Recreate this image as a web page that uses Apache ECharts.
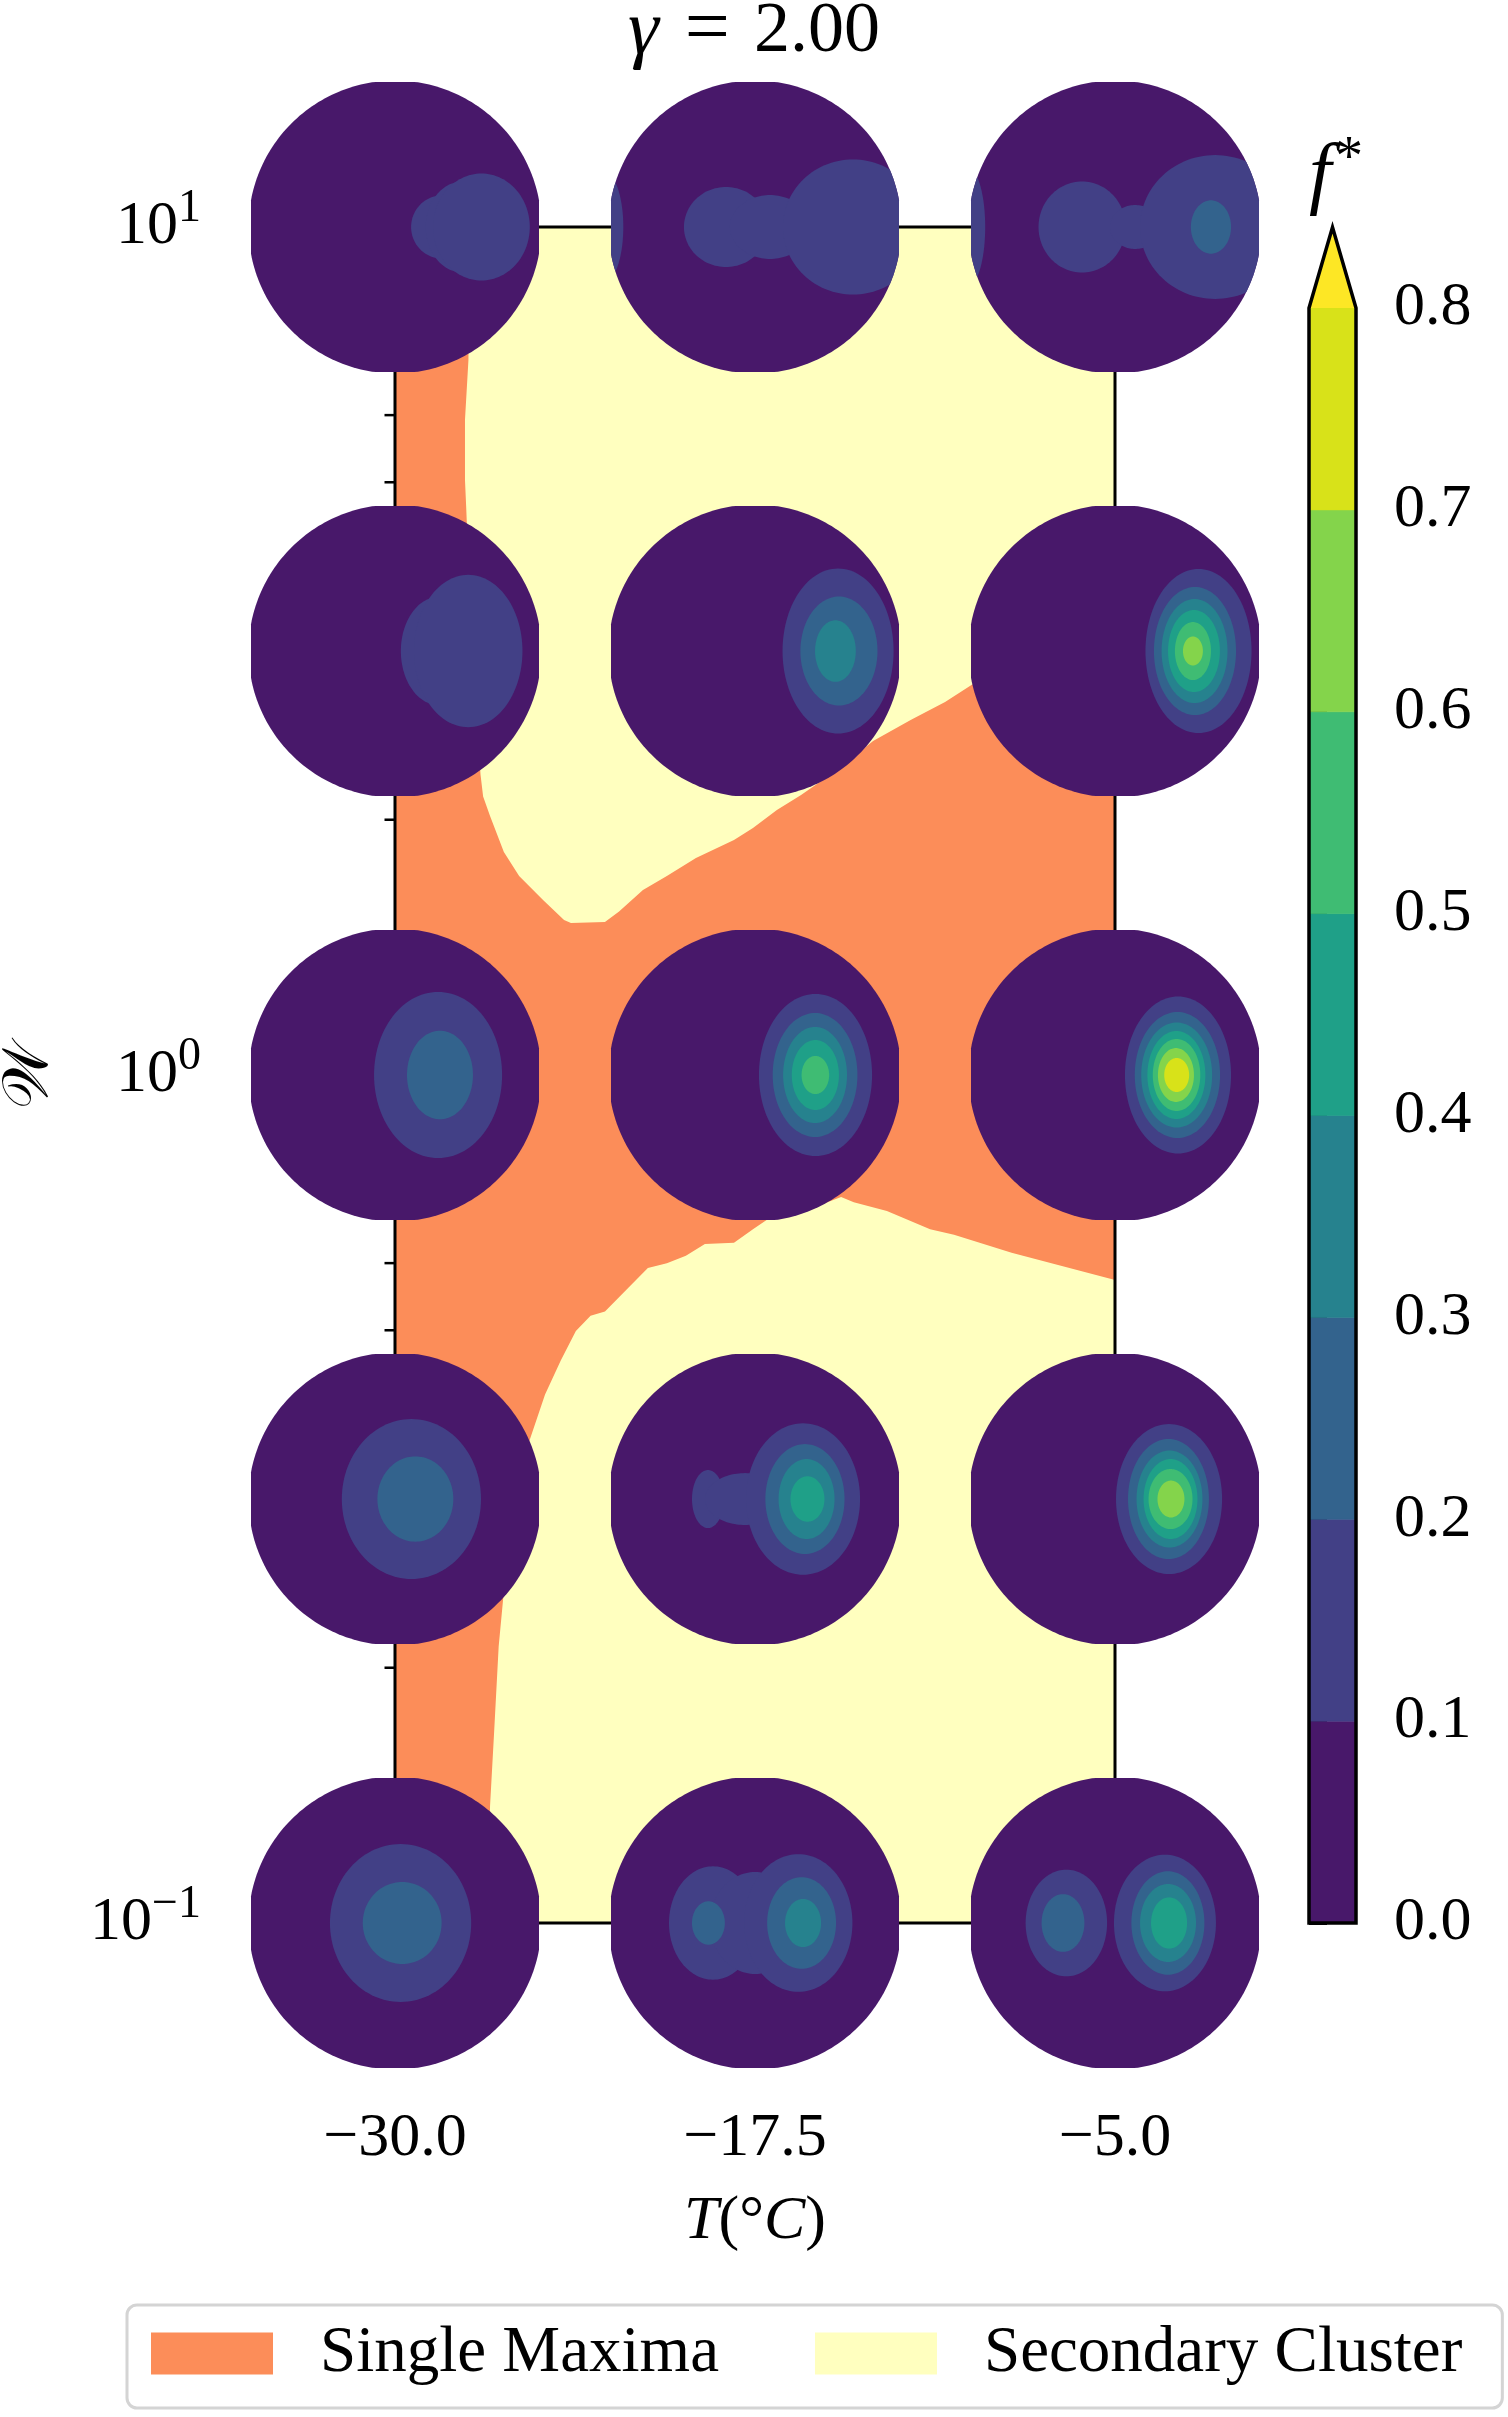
<!DOCTYPE html>
<html>
<head>
<meta charset="utf-8">
<title>gamma = 2.00</title>
<script src="https://cdn.jsdelivr.net/npm/echarts@6/dist/echarts.min.js"></script>
<style>
  html, body { margin: 0; padding: 0; background: #fff; }
  #chart { width: 1508px; height: 2417px; }
</style>
</head>
<body>
<div id="chart"></div>
<script>
// ticks
var xTicks = [-30, -17.5, -5];
var yTicks = [0.1, 1, 10];
var yMinorTicks = [0.2, 0.3, 0.4, 0.5, 0.6, 0.7, 0.8, 0.9, 2, 3, 4, 5, 6, 7, 8, 9];
var levels = [0, 0.1, 0.2, 0.3, 0.4, 0.5, 0.6, 0.7, 0.8];

// "Single Maxima" region outline (T, W)
var singleMaxT = [-30, -27.40, -27.45, -27.57, -27.57, -27.53, -27.33, -27.03, -26.94, -26.70,
  -26.22, -25.69, -24.86, -24.13, -23.89, -22.71, -22.22, -21.39, -20.56, -19.55,
  -18.23, -17.57, -16.74, -15.90, -14.55, -13.40, -12.08, -10.90, -9.93, -5,
  -5, -8.59, -10.59, -11.42, -12.92, -14.07, -14.51, -15.94, -17.06, -17.57,
  -18.23, -19.24, -19.90, -20.56, -21.22, -21.88, -22.71, -23.21, -23.72, -24.24,
  -24.79, -25.35, -25.83, -26.24, -26.40, -26.56, -26.70, -26.77, -30];
var singleMaxW = [10, 10, 6.97, 5.92, 5.03, 4.69, 3.17, 2.26, 2.13, 2.02,
  1.832, 1.717, 1.608, 1.523, 1.511, 1.515, 1.559, 1.653, 1.717, 1.803,
  1.893, 1.956, 2.054, 2.139, 2.301, 2.476, 2.623, 2.754, 2.891, 3.535,
  0.573, 0.617, 0.648, 0.658, 0.691, 0.708, 0.718, 0.688, 0.676, 0.658,
  0.634, 0.632, 0.612, 0.600, 0.592, 0.562, 0.526, 0.520, 0.499, 0.461,
  0.420, 0.369, 0.299, 0.242, 0.212, 0.1675, 0.1374, 0.1, 0.1];

// "Secondary Cluster" fills the rest of the domain
var clusterT = [-30, -5, -5, -30];
var clusterW = [0.1, 0.1, 10, 10];

// inset positions
var insetT = [-30, -17.5, -5];
var insetW = [10, 3.162, 1, 0.3162, 0.1];

// contour blobs of each inset: [level, cx, cy, rx, ry], unit = inset radius
var blobs_w10_t30 = [[1, 0.32, 0, 0.21, 0.215], [1, 0.46, 0, 0.25, 0.31], [1, 0.59, 0, 0.33, 0.365]];
var blobs_w10_t17 = [[1, -1.024, 0, 0.125, 0.369], [1, -0.198, 0, 0.287, 0.273],
  [1, 0.102, 0, 0.273, 0.218], [1, 0.669, 0, 0.478, 0.461]];
var blobs_w10_t5 = [[1, -1.010, 0, 0.124, 0.412], [1, -0.225, 0, 0.297, 0.311],
  [1, 0.137, 0, 0.171, 0.150], [1, 0.683, 0, 0.512, 0.491], [2, 0.655, 0, 0.137, 0.182]];

var blobs_w3_t30 = [[1, 0.30, 0, 0.26, 0.37], [1, 0.50, 0, 0.37, 0.52]];
var blobs_w3_t17 = [[1, 0.567, 0, 0.379, 0.563], [2, 0.573, 0, 0.263, 0.372], [3, 0.549, 0, 0.139, 0.210]];
var blobs_w3_t5 = [[1, 0.570, 0, 0.362, 0.560], [2, 0.546, 0, 0.280, 0.437], [3, 0.543, 0, 0.225, 0.355],
  [4, 0.539, 0, 0.177, 0.280], [5, 0.532, 0, 0.123, 0.198], [6, 0.532, 0, 0.068, 0.099]];

var blobs_w1_t30 = [[1, 0.294, 0, 0.437, 0.567], [2, 0.307, 0, 0.225, 0.302]];
var blobs_w1_t17 = [[1, 0.413, 0, 0.386, 0.553], [2, 0.410, 0, 0.289, 0.423], [3, 0.410, 0, 0.218, 0.328],
  [4, 0.412, 0, 0.161, 0.239], [5, 0.412, 0, 0.094, 0.130]];
var blobs_w1_t5 = [[1, 0.430, 0, 0.362, 0.536], [2, 0.426, 0, 0.291, 0.430], [3, 0.421, 0, 0.242, 0.358],
  [4, 0.419, 0, 0.198, 0.300], [5, 0.420, 0, 0.162, 0.246], [6, 0.416, 0, 0.123, 0.184],
  [7, 0.421, 0, 0.085, 0.116]];

var blobs_w03_t30 = [[1, 0.112, 0, 0.475, 0.546], [2, 0.139, 0, 0.259, 0.291]];
var blobs_w03_t17 = [[1, -0.321, 0, 0.109, 0.198], [1, -0.068, 0, 0.273, 0.177], [1, 0.328, 0, 0.389, 0.517],
  [2, 0.341, 0, 0.270, 0.375], [3, 0.352, 0, 0.191, 0.273], [4, 0.358, 0, 0.116, 0.155]];
var blobs_w03_t5 = [[1, 0.369, 0, 0.362, 0.512], [2, 0.365, 0, 0.276, 0.410], [3, 0.372, 0, 0.225, 0.331],
  [4, 0.379, 0, 0.184, 0.273], [5, 0.379, 0, 0.150, 0.205], [6, 0.382, 0, 0.092, 0.126]];

var blobs_w01_t30 = [[1, 0.038, 0, 0.482, 0.539], [2, 0.049, 0, 0.269, 0.280]];
var blobs_w01_t17 = [[1, -0.287, 0, 0.300, 0.387], [1, 0, 0, 0.307, 0.348], [1, 0.296, 0, 0.369, 0.470],
  [2, -0.318, 0, 0.112, 0.148], [2, 0.318, 0, 0.235, 0.313], [3, 0.328, 0, 0.123, 0.164]];
var blobs_w01_t5 = [[1, -0.332, 0, 0.278, 0.364], [1, 0.341, 0, 0.348, 0.466], [2, -0.355, 0, 0.146, 0.197],
  [2, 0.361, 0, 0.249, 0.353], [3, 0.362, 0, 0.191, 0.266], [4, 0.369, 0, 0.123, 0.175]];

var insetBlobs = [
  blobs_w10_t30, blobs_w10_t17, blobs_w10_t5,
  blobs_w3_t30, blobs_w3_t17, blobs_w3_t5,
  blobs_w1_t30, blobs_w1_t17, blobs_w1_t5,
  blobs_w03_t30, blobs_w03_t17, blobs_w03_t5,
  blobs_w01_t30, blobs_w01_t17, blobs_w01_t5
];

// viridis, one colour per band, last one for the "over" extension
var bandColors = ['#48186a', '#424086', '#33638d', '#26828e', '#1fa088', '#3fbc73', '#84d44b', '#d8e219', '#fde725'];

var FONT = 'Liberation Serif';
var R = 146.5, HW = 144, HH = 145;   // inset disk radius and clip box (px)

function diskPoints(cx, cy) {
  var pts = [];
  for (var i = 0; i < 240; i++) {
    var a = i / 240 * Math.PI * 2;
    var x = Math.max(-HW, Math.min(HW, R * Math.cos(a)));
    var y = Math.max(-HH, Math.min(HH, R * Math.sin(a)));
    pts.push([cx + x, cy + y]);
  }
  return pts;
}

function ellipsePoints(cx, cy, rx, ry) {
  var pts = [];
  for (var i = 0; i < 120; i++) {
    var a = i / 120 * Math.PI * 2;
    pts.push([cx + rx * Math.cos(a), cy + ry * Math.sin(a)]);
  }
  return pts;
}

function polygonRenderer(tArr, wArr, color) {
  return function (params, api) {
    if (params.dataIndex !== 0) return;
    var pts = tArr.map(function (t, i) { return api.coord([t, wArr[i]]); });
    return { type: 'polygon', shape: { points: pts }, style: { fill: color } };
  };
}

var insetData = [];
insetW.forEach(function (w) {
  insetT.forEach(function (t) { insetData.push([t, w]); });
});

var bandData = [];
for (var i = 0; i < levels.length - 1; i++) bandData.push([levels[i], levels[i + 1], i]);
var extendTip = levels[levels.length - 1] * 1.05;

var chart = echarts.init(document.getElementById('chart'));
chart.setOption({
  animation: false,
  title: {
    text: '{g|γ}{e|=}2.00',
    left: 'center',
    top: 0,
    padding: 0,
    textStyle: {
      fontFamily: FONT, fontSize: 72, fontWeight: 'normal', color: '#000', lineHeight: 64,
      rich: {
        g: { fontFamily: FONT, fontSize: 78, fontStyle: 'italic', color: '#000', lineHeight: 64 },
        e: { fontFamily: FONT, fontSize: 80, color: '#000', lineHeight: 64, padding: [0, 24, 0, 26] }
      }
    }
  },
  legend: {
    data: [{ name: 'Single Maxima', icon: 'rect' }, { name: 'Secondary Cluster', icon: 'rect' }],
    left: 127,
    top: 2305,
    itemWidth: 122,
    itemHeight: 42,
    itemGap: 96,
    padding: [16, 40, 22, 24],
    backgroundColor: '#fff',
    borderColor: '#d4d4d4',
    borderWidth: 3,
    borderRadius: 10,
    selectedMode: false,
    itemStyle: { borderWidth: 0 },
    textStyle: { fontFamily: FONT, fontSize: 65, color: '#000', padding: [6, 0, 0, 42] }
  },
  graphic: [{
    type: 'text',
    x: 1336,
    y: 178,
    style: {
      text: '{f|f}{s|*}',
      align: 'center',
      verticalAlign: 'middle',
      rich: {
        f: { fontFamily: FONT, fontSize: 80, fontStyle: 'italic', color: '#000', lineHeight: 80, verticalAlign: 'bottom' },
        s: { fontFamily: FONT, fontSize: 56, color: '#000', lineHeight: 56, padding: [0, 0, 30, 4], verticalAlign: 'bottom' }
      }
    }
  }],
  grid: [
    { left: 395, top: 227, width: 720, height: 1696, show: true, z: 3, outerBoundsMode: 'none',
      containLabel: false, backgroundColor: 'transparent', borderColor: '#000', borderWidth: 3 },
    { left: 1309, top: 308, width: 47, height: 1615, outerBoundsMode: 'none', containLabel: false }
  ],
  xAxis: [{
    type: 'value', gridIndex: 0, min: -30, max: -5, interval: 2.5,
    axisLine: { show: false }, axisTick: { show: false }, splitLine: { show: false },
    axisLabel: {
      margin: 185, fontFamily: FONT, fontSize: 62, color: '#000',
      formatter: function (v) {
        var hit = xTicks.some(function (t) { return Math.abs(t - v) < 1e-6; });
        if (!hit) return '';
        return (v < 0 ? '\u2212' : '') + Math.abs(v).toFixed(1);
      }
    },
    name: '{i|T}(°{i|C})',
    nameLocation: 'middle',
    nameGap: 268,
    nameTextStyle: {
      fontFamily: FONT, fontSize: 62, color: '#000', lineHeight: 62,
      rich: { i: { fontFamily: FONT, fontSize: 62, fontStyle: 'italic', color: '#000', lineHeight: 62 } }
    }
  }, {
    type: 'value', gridIndex: 1, min: 0, max: 1, show: false
  }],
  yAxis: [{
    type: 'log', gridIndex: 0, logBase: 10, min: yTicks[0], max: yTicks[yTicks.length - 1],
    axisLine: { show: false }, axisTick: { show: false }, splitLine: { show: false },
    axisLabel: {
      margin: 194, fontFamily: FONT, fontSize: 62, color: '#000',
      formatter: function (v) {
        var e = Math.round(Math.log10(v));
        if (Math.abs(Math.pow(10, e) - v) > 1e-6 * Math.pow(10, e)) return '';
        return '{b|10}{s|' + (e < 0 ? '\u2212' + (-e) : e) + '}';
      },
      rich: {
        b: { fontFamily: FONT, fontSize: 62, color: '#000', lineHeight: 62, verticalAlign: 'bottom' },
        s: { fontFamily: FONT, fontSize: 46, color: '#000', lineHeight: 46, padding: [0, 0, 26, 0], verticalAlign: 'bottom' }
      }
    },
    name: '\uD835\uDCB2',
    nameLocation: 'middle',
    nameRotate: 90,
    nameGap: 333,
    nameTextStyle: { fontFamily: 'DejaVu Serif, DejaVu Sans, ' + FONT, fontSize: 64, color: '#000' }
  }, {
    type: 'value', gridIndex: 1, min: levels[0], max: levels[levels.length - 1], interval: 0.1,
    position: 'right',
    axisLine: { show: false },
    splitLine: { show: false },
    axisTick: { show: true, length: 18, lineStyle: { color: '#000', width: 3 } },
    axisLabel: {
      margin: 38, fontFamily: FONT, fontSize: 62, color: '#000', showMinLabel: true, showMaxLabel: true,
      formatter: function (v) { return v.toFixed(1); }
    }
  }],
  series: [
    {
      name: 'Secondary Cluster', type: 'custom', xAxisIndex: 0, yAxisIndex: 0, z: 1,
      itemStyle: { color: '#ffffbf' },
      data: clusterT.map(function (t, i) { return [t, clusterW[i]]; }),
      renderItem: polygonRenderer(clusterT, clusterW, '#ffffbf')
    },
    {
      name: 'Single Maxima', type: 'custom', xAxisIndex: 0, yAxisIndex: 0, z: 1,
      itemStyle: { color: '#fc8d59' },
      data: singleMaxT.map(function (t, i) { return [t, singleMaxW[i]]; }),
      renderItem: polygonRenderer(singleMaxT, singleMaxW, '#fc8d59')
    },
    {
      // minor ticks of the log axis
      type: 'custom', xAxisIndex: 0, yAxisIndex: 0, z: 4, clip: false, silent: true,
      data: yMinorTicks.map(function (v) { return [xTicks[0], v]; }),
      renderItem: function (params, api) {
        var p = api.coord([api.value(0), api.value(1)]);
        return { type: 'line', shape: { x1: p[0] - 10.5, y1: p[1], x2: p[0], y2: p[1] },
          style: { stroke: '#000', lineWidth: 2.5 } };
      }
    },
    {
      // contour insets
      type: 'custom', xAxisIndex: 0, yAxisIndex: 0, z: 6, clip: false, silent: true,
      data: insetData,
      renderItem: function (params, api) {
        var c = api.coord([api.value(0), api.value(1)]);
        var disk = diskPoints(c[0], c[1]);
        var blobs = insetBlobs[params.dataIndex].map(function (b) {
          return {
            type: 'polygon',
            shape: { points: ellipsePoints(c[0] + b[1] * R, c[1] - b[2] * R, b[3] * R, b[4] * R) },
            style: { fill: bandColors[b[0]] }
          };
        });
        return {
          type: 'group',
          children: [
            { type: 'polygon', shape: { points: disk }, style: { fill: bandColors[0] } },
            { type: 'group', clipPath: { type: 'polygon', shape: { points: disk } }, children: blobs }
          ]
        };
      }
    },
    {
      // colorbar bands
      type: 'custom', xAxisIndex: 1, yAxisIndex: 1, z: 2, clip: false, silent: true,
      data: bandData.concat([[levels[levels.length - 1], extendTip, levels.length - 1]]),
      renderItem: function (params, api) {
        var lo = api.value(0), hi = api.value(1), k = api.value(2);
        var color = bandColors[k];
        if (k === levels.length - 1) {
          return { type: 'polygon',
            shape: { points: [api.coord([0, lo]), api.coord([0.5, hi]), api.coord([1, lo])] },
            style: { fill: color } };
        }
        var p0 = api.coord([0, lo]), p1 = api.coord([1, hi]);
        return { type: 'rect',
          shape: { x: p0[0], y: p1[1], width: p1[0] - p0[0], height: p0[1] - p1[1] },
          style: { fill: color, stroke: color, lineWidth: 0.6 } };
      }
    },
    {
      // colorbar outline
      type: 'custom', xAxisIndex: 1, yAxisIndex: 1, z: 3, clip: false, silent: true,
      data: [[0, 0]],
      renderItem: function (params, api) {
        var top = levels[levels.length - 1];
        var pts = [api.coord([0, levels[0]]), api.coord([0, top]), api.coord([0.5, extendTip]),
          api.coord([1, top]), api.coord([1, levels[0]])];
        return { type: 'polygon', shape: { points: pts },
          style: { fill: 'none', stroke: '#000', lineWidth: 3.5, lineJoin: 'miter' } };
      }
    }
  ]
});
</script>
</body>
</html>
